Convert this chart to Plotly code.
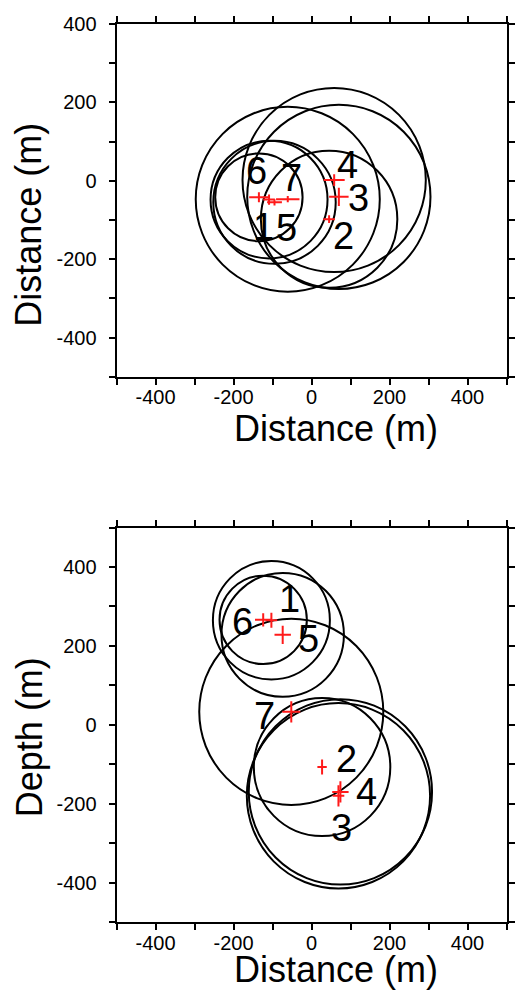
import plotly.graph_objects as go

# ---------------- data ----------------
events = ["1", "2", "3", "4", "5", "6", "7"]

# map view (top panel): horizontal positions (m)
map_x = [-109, 45, 70, 58, -95, -135, -61]
map_y = [-48, -98, -41, 2, -55, -42, -47]
map_ex = [15, 15, 25, 27, 19, 25, 30]
map_ey = [13, 10, 23, 15, 8, 13, 8]

# depth section (bottom panel)
dep_x = [-103, 27, 69, 74, -74, -124, -52]
dep_y = [265, -107, -180, -170, 228, 266, 33]
dep_ex = [15, 12, 15, 21, 21, 21, 23]
dep_ey = [19, 19, 27, 27, 23, 17, 27]

# source radius (m)
radius = [150, 175, 235, 235, 157, 112, 236]

# label positions
map_lab_x = [-124, 83, 121, 93, -65, -141, -52]
map_lab_y = [-117, -142, -45, 40, -120, 25, 6]
dep_lab_x = [-57, 89, 76, 140, -8, -178, -120]
dep_lab_y = [320, -86, -261, -170, 218, 260, 23]

tick_vals_full = list(range(-500, 501, 100))
tick_vals_top_y = list(range(-500, 401, 100))

# ---------------- figure ----------------
W, H = 515, 991
FONT = "Liberation Sans, Arial, Helvetica, sans-serif"
S, OFF = 0.99, 9.9  # capture scaling compensation


def fx(tx):
    return min(tx / S, W - 1.5) / W


def fy(ty):
    return 1 - ((ty - OFF) / S) / H


fig = go.Figure()

RED = "#ff1a1a"
fig.add_trace(go.Scatter(
    x=map_x, y=map_y, mode="markers", xaxis="x", yaxis="y",
    marker=dict(size=1, color="rgba(0,0,0,0)"),
    error_x=dict(type="data", array=map_ex, color=RED, thickness=2, width=0),
    error_y=dict(type="data", array=map_ey, color=RED, thickness=2, width=0),
    hoverinfo="skip"))
fig.add_trace(go.Scatter(
    x=dep_x, y=dep_y, mode="markers", xaxis="x2", yaxis="y2",
    marker=dict(size=1, color="rgba(0,0,0,0)"),
    error_x=dict(type="data", array=dep_ex, color=RED, thickness=2, width=0),
    error_y=dict(type="data", array=dep_ey, color=RED, thickness=2, width=0),
    hoverinfo="skip"))

for cx, cy, r in zip(map_x, map_y, radius):
    fig.add_shape(type="circle", xref="x", yref="y", x0=cx - r, x1=cx + r,
                  y0=cy - r, y1=cy + r, line=dict(color="black", width=2),
                  layer="below")
for cx, cy, r in zip(dep_x, dep_y, radius):
    fig.add_shape(type="circle", xref="x2", yref="y2", x0=cx - r, x1=cx + r,
                  y0=cy - r, y1=cy + r, line=dict(color="black", width=2),
                  layer="below")

for lab, lx, ly in zip(events, map_lab_x, map_lab_y):
    fig.add_annotation(x=lx, y=ly, xref="x", yref="y", text=lab, showarrow=False,
                       xanchor="center", yanchor="middle",
                       font=dict(family=FONT, size=38, color="black"))
for lab, lx, ly in zip(events, dep_lab_x, dep_lab_y):
    fig.add_annotation(x=lx, y=ly, xref="x2", yref="y2", text=lab, showarrow=False,
                       xanchor="center", yanchor="middle",
                       font=dict(family=FONT, size=38, color="black"))


def ticktext(vals):
    return ["" if v % 200 else str(v) for v in vals]


axis_common = dict(showline=True, linecolor="black", linewidth=2, mirror="ticks",
                   ticks="outside", ticklen=6, tickwidth=1.5, tickcolor="black",
                   showgrid=False, zeroline=False,
                   tickfont=dict(family=FONT, size=20, color="black"))

xdom = [fx(117), fx(511)]
fig.update_layout(
    width=W, height=H, margin=dict(l=0, r=0, t=0, b=0),
    paper_bgcolor="white", plot_bgcolor="white", showlegend=False,
    xaxis=dict(domain=xdom, anchor="y", range=[-500, 500],
               tickvals=tick_vals_full, ticktext=ticktext(tick_vals_full),
               ticklabelstandoff=-5, **axis_common),
    yaxis=dict(domain=[fy(376), fy(23)], anchor="x", range=[-500, 400],
               tickvals=tick_vals_top_y, ticktext=ticktext(tick_vals_top_y),
               ticklabelstandoff=8, **axis_common),
    xaxis2=dict(domain=xdom, anchor="y2", range=[-500, 500],
                tickvals=tick_vals_full, ticktext=ticktext(tick_vals_full),
                ticklabelstandoff=-4, **axis_common),
    yaxis2=dict(domain=[fy(922), fy(527)], anchor="x2", range=[-500, 500],
                tickvals=tick_vals_full, ticktext=ticktext(tick_vals_full),
                ticklabelstandoff=8, **axis_common),
)

titles = [
    ("Distance (m)", 337, 428, 0),
    ("Distance (m)", 29, 224, -90),
    ("Distance (m)", 337, 969, 0),
    ("Depth (m)", 29, 737, -90),
]
for txt, px, py, ang in titles:
    fig.add_annotation(x=fx(px), y=fy(py), xref="paper", yref="paper", text=txt,
                       showarrow=False, xanchor="center", yanchor="middle",
                       textangle=ang, font=dict(family=FONT, size=36, color="black"))

post = (
    "document.documentElement.style.margin='0';"
    "document.documentElement.style.overflow='hidden';"
    "document.body.style.margin='0';document.body.style.overflow='hidden';"
    "var gd=document.getElementById('{plot_id}');"
    "gd.style.position='absolute';gd.style.top='0px';gd.style.left='0px';"
)
fig.write_html("out.html", config={"displayModeBar": False}, post_script=post)
